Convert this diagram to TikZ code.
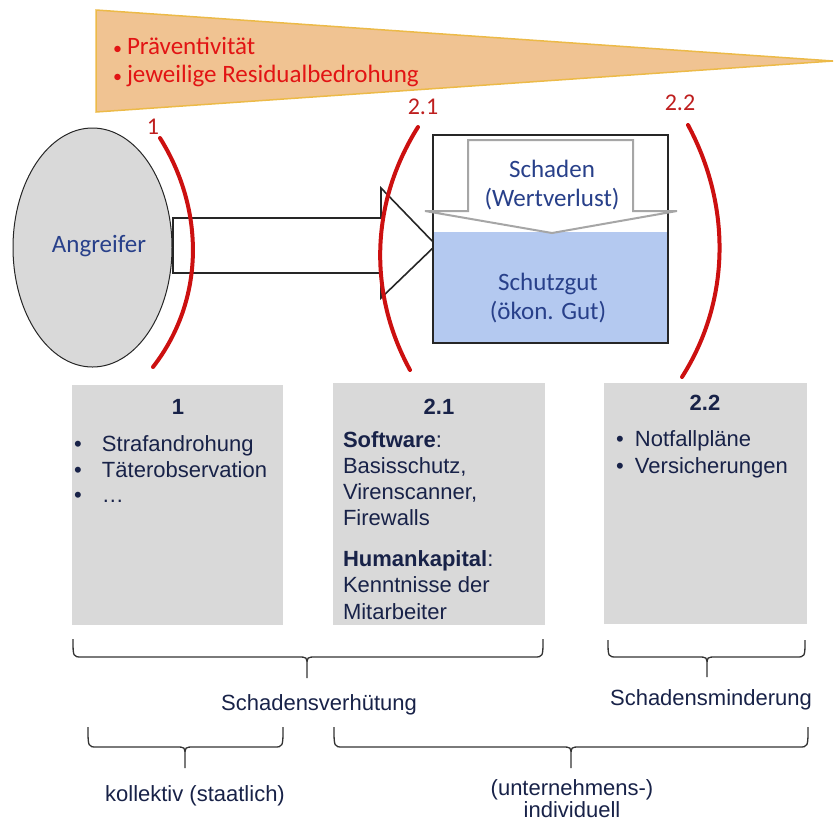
\documentclass[tikz,border=0pt]{standalone}
\usepackage{fontspec}
\setmainfont{Liberation Sans}
\newfontfamily\carlitofont{Carlito}
\usetikzlibrary{shapes.geometric}
\definecolor{wedgefill}{RGB}{240,195,146}
\definecolor{wedgeedge}{RGB}{236,186,72}
\definecolor{alertred}{RGB}{226,20,20}
\definecolor{arcred}{RGB}{204,16,16}
\definecolor{labelred}{RGB}{190,30,30}
\definecolor{slidenavy}{RGB}{40,64,138}
\definecolor{textnavy}{RGB}{24,34,72}
\definecolor{panelgray}{RGB}{217,217,217}
\definecolor{assetblue}{RGB}{180,201,240}
\definecolor{lossgray}{RGB}{166,166,166}
\begin{document}
\begin{tikzpicture}[x=1pt,y=-1pt,
  every node/.style={inner sep=0pt,outer sep=0pt},
  redtxt/.style={font=\carlitofont\fontsize{25}{30}\selectfont,text=alertred,anchor=base west},
  arclabel/.style={font=\carlitofont\fontsize{24}{28}\selectfont,text=labelred},
  slidetxt/.style={font=\carlitofont\fontsize{25}{30}\selectfont,text=slidenavy},
  boxtxt/.style={font=\fontsize{22}{26}\selectfont,text=textnavy,anchor=base west},
  boxhead/.style={font=\bfseries\fontsize{22}{26}\selectfont,text=textnavy,anchor=base},
  captxt/.style={font=\fontsize{22}{26}\selectfont,text=textnavy,anchor=base},
  panel/.style={fill=panelgray},
  barrier/.style={draw=arcred,line width=4pt,line cap=round},
  bracket/.style={draw=black!80,line width=1.3pt},
]
\useasboundingbox (0,0) rectangle (834,823);

% wedge with the two headline bullets
\path[fill=wedgefill,draw=wedgeedge,line width=1.5pt] (96,10) -- (833,61) -- (96,112) -- cycle;
\node[redtxt] (prae) at (113,54) {\makebox[14pt][l]{\fontsize{18}{20}\selectfont•}Präventivität};
\node[redtxt] (resid) at (113,82) {\makebox[14pt][l]{\fontsize{18}{20}\selectfont•}jeweilige Residualbedrohung};

% attacker
\node[ellipse,draw=black!85,line width=1pt,fill=panelgray,minimum width=159pt,minimum height=239pt] (angreifer) at (92.5,247.5) {};
\node[slidetxt,anchor=base] (angreiferlbl) at (99,252) {Angreifer};

% block arrow towards the asset
\path[draw=black!85,line width=1.6pt,fill=white,line join=miter]
  (173,218) -- (381,218) -- (381,188) -- (436,245) -- (381,298) -- (381,273) -- (173,273) -- cycle;

% asset box
\fill[assetblue] (433,232) rectangle (668,343);
\draw[black!85,line width=1.8pt] (433,135) rectangle (668,343);
\path[draw=lossgray,line width=2pt,fill=white,line join=miter]
  (468,140) -- (633,140) -- (633,211) -- (677,211) -- (552,233) -- (425,211) -- (468,211) -- cycle;
\node[slidetxt,anchor=base] (schaden) at (552,177) {Schaden};
\node[slidetxt,anchor=base] (wert) at (552,206) {(Wertverlust)};
\node[slidetxt,anchor=base] (schutz) at (548,290) {Schutzgut};
\node[slidetxt,anchor=base] (oekon) at (548,319) {(ökon. Gut)};

% protective barriers
\draw[barrier] (160,138) .. controls (205,210) and (205,300) .. (153,367);
\draw[barrier] (418,127) .. controls (369,205) and (369,295) .. (410,370);
\draw[barrier] (688,125) .. controls (731,205) and (731,300) .. (682,377);
\node[arclabel] (l1) at (153,127) {1};
\node[arclabel] (l21) at (423,107) {2.1};
\node[arclabel] (l22) at (680,103) {2.2};

% measure panels
\fill[panel] (72,385) rectangle (283,625);
\fill[panel] (333,383) rectangle (545,625);
\fill[panel] (604,383) rectangle (807,624);

\node[boxhead] (h1) at (178,414) {1};
\node[boxtxt] (m1a) at (74,451) {\makebox[28pt][l]{•}Strafandrohung};
\node[boxtxt] (m1b) at (74,477) {\makebox[28pt][l]{•}Täterobservation};
\node[boxtxt] (m1c) at (74,502) {\makebox[28pt][l]{•}…};

\node[boxhead] (h21) at (439,414) {2.1};
\node[boxtxt] (sw1) at (343,447) {\textbf{Software}:};
\node[boxtxt] (sw2) at (343,473) {Basisschutz,};
\node[boxtxt] (sw3) at (343,499) {Virenscanner,};
\node[boxtxt] (sw4) at (343,525) {Firewalls};
\node[boxtxt] (hk1) at (343,566) {\textbf{Humankapital}:};
\node[boxtxt] (hk2) at (343,592) {Kenntnisse der};
\node[boxtxt] (hk3) at (343,619) {Mitarbeiter};

\node[boxhead] (h22) at (705,410) {2.2};
\node[boxtxt] (m2a) at (616,446) {\makebox[19pt][l]{•}Notfallpläne};
\node[boxtxt] (m2b) at (616,473) {\makebox[19pt][l]{•}Versicherungen};

% grouping braces
\path[bracket] (73,639) .. controls (73,657) .. (82,657) -- (298,657) .. controls (307,657) .. (307,666) -- (307,678)
  (307,666) .. controls (307,657) .. (316,657) -- (534,657) .. controls (543,657) .. (543,639);
\node[captxt] (verh) at (319,710) {Schadensverhütung};

\path[bracket] (608,640) .. controls (608,657) .. (617,657) -- (698,657) .. controls (707,657) .. (707,666) -- (707,677)
  (707,666) .. controls (707,657) .. (716,657) -- (796,657) .. controls (805,657) .. (805,640);
\node[captxt] (mind) at (711,705) {Schadensminderung};

\path[bracket] (88,727) .. controls (88,747) .. (97,747) -- (176,747) .. controls (185,747) .. (185,756) -- (185,768)
  (185,756) .. controls (185,747) .. (194,747) -- (274,747) .. controls (283,747) .. (283,727);
\node[captxt] (koll) at (195,801) {kollektiv (staatlich)};

\path[bracket] (334,727) .. controls (334,747) .. (343,747) -- (562,747) .. controls (571,747) .. (571,756) -- (571,768)
  (571,756) .. controls (571,747) .. (580,747) -- (799,747) .. controls (808,747) .. (808,727);
\node[captxt] (unt1) at (572,795) {(unternehmens-)};
\node[captxt] (unt2) at (572,817) {individuell};
\end{tikzpicture}
\end{document}
